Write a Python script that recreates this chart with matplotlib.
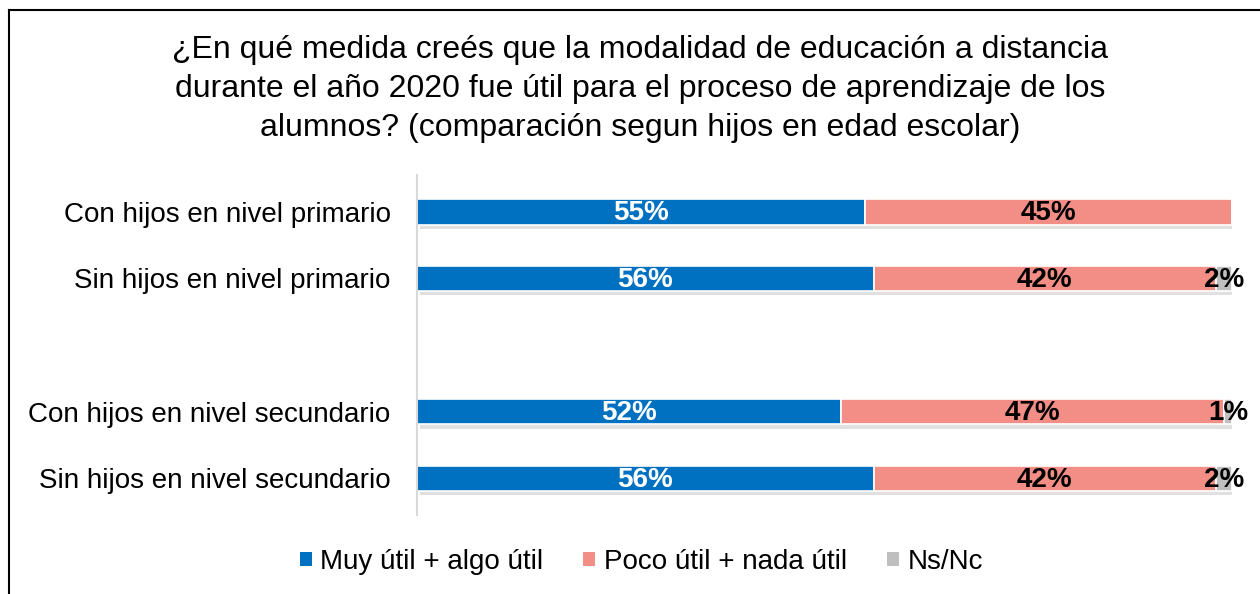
import matplotlib
matplotlib.use('Agg')
import matplotlib.pyplot as plt
import matplotlib.patheffects as pe
from matplotlib.lines import Line2D
from matplotlib.patches import Patch

plt.rcParams['font.family'] = ['Liberation Sans', 'DejaVu Sans']

# datos
categorias = ['Con hijos en nivel primario', 'Sin hijos en nivel primario', '',
              'Con hijos en nivel secundario', 'Sin hijos en nivel secundario']
muy_util = [55, 56, None, 52, 56]
poco_util = [45, 42, None, 47, 42]
ns_nc = [0, 2, None, 1, 2]
series = ['Muy útil + algo útil', 'Poco útil + nada útil', 'Ns/Nc']
colores = ['#0070C0', '#F28E86', '#BFBFBF']

titulo = ('¿En qué medida creés que la modalidad de educación a distancia\n'
          'durante el año 2020 fue útil para el proceso de aprendizaje de los\n'
          'alumnos? (comparación segun hijos en edad escolar)')

fig = plt.figure(figsize=(12.6, 5.94), dpi=100)
ax = fig.add_axes([0.331, 0.133, 0.647, 0.572])

sombra = [pe.SimplePatchShadow(offset=(2, -3), shadow_rgbFace='#9A9A9A', alpha=0.3), pe.Normal()]

filas = [i for i in range(len(categorias)) if muy_util[i] is not None]
izq = [0] * len(filas)
for datos, color, nombre in zip([muy_util, poco_util, ns_nc], colores, series):
    vals = [datos[i] for i in filas]
    barras = ax.barh(filas, vals, left=izq, height=0.38, color=color,
                     edgecolor='white', linewidth=1.2)
    for b in barras:
        b.set_path_effects(sombra)
    color_txt = 'white' if nombre == series[0] else 'black'
    for y, v, l in zip(filas, vals, izq):
        if v == 0:
            continue
        ax.text(l + v / 2, y + 0.02, f'{v}%', ha='center', va='center',
                color=color_txt, fontsize=20, fontweight='bold')
    izq = [a + b for a, b in zip(izq, vals)]

ax.set_xlim(0, 100)
ax.set_ylim(4.55, -0.55)
ax.set_yticks(range(len(categorias)))
ax.set_yticklabels(categorias, fontsize=20)
ax.tick_params(axis='y', length=0, pad=19)
ax.set_xticks([])
for s in ['top', 'right', 'bottom']:
    ax.spines[s].set_visible(False)
ax.spines['left'].set_color('#D9D9D9')
ax.spines['left'].set_linewidth(1.5)

fig.text(0.508, 1 - 89 / 594, titulo, ha='center', va='center', fontsize=23, linespacing=1.38)

handles = [Patch(facecolor=c, edgecolor='none') for c in colores]
ax.legend(handles, series, loc='center', bbox_to_anchor=(0.509, 0.054), bbox_transform=fig.transFigure,
          ncol=3, frameon=False, fontsize=20, handlelength=0.43, handleheight=0.43,
          handletextpad=0.3, columnspacing=1.45)

# marco
fig.add_artist(Line2D([9 / 1260, 1], [1 - 10 / 594, 1 - 10 / 594], color='black', lw=1.5))
fig.add_artist(Line2D([9 / 1260, 9 / 1260], [0, 1 - 10 / 594], color='black', lw=1.5))

fig.savefig('out.png', dpi=100)
